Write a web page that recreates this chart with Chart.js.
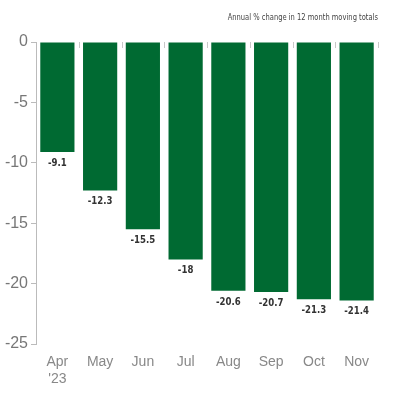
<!DOCTYPE html>
<html>
<head>
<meta charset="utf-8">
<script src="https://cdn.jsdelivr.net/npm/chart.js@4/dist/chart.umd.min.js"></script>
<style>
  html, body { margin: 0; padding: 0; background: #fff; }
  #wrap { width: 400px; height: 400px; }
</style>
</head>
<body>
<div id="wrap"><canvas id="chart" width="400" height="400"></canvas></div>
<script>
const months = [['Apr', "'23"], 'May', 'Jun', 'Jul', 'Aug', 'Sep', 'Oct', 'Nov'];
const changes = [-9.1, -12.3, -15.5, -18, -20.6, -20.7, -21.3, -21.4];
const yTicks = [0, -5, -10, -15, -20, -25];
const subtitle = 'Annual % change in 12 month moving totals';

const barGreen = '#006a32';

// narrow text: no condensed face installed, so squeeze horizontally
function narrowText(ctx, text, x, y, squeeze) {
    ctx.save();
    ctx.translate(x, y);
    ctx.scale(squeeze, 1);
    ctx.fillText(text, 0, 0);
    ctx.restore();
}

// value labels under each bar, small marks at the top and the subtitle
const extras = {
    id: 'extras',
    afterDatasetsDraw(chart) {
        const ctx = chart.ctx;
        const area = chart.chartArea;
        const meta = chart.getDatasetMeta(0);
        ctx.save();
        ctx.fillStyle = '#333';
        ctx.font = 'bold 11px "DejaVu Sans", sans-serif';
        ctx.textAlign = 'center';
        ctx.textBaseline = 'middle';
        meta.data.forEach((bar, i) => {
            narrowText(ctx, String(changes[i]), bar.x, bar.y + 11, 0.78);
        });

        const xs = chart.scales.x;
        ctx.strokeStyle = '#c8c8c8';
        ctx.lineWidth = 1;
        for (let i = 1; i <= changes.length; i++) {
            const x = i < changes.length
                ? (xs.getPixelForValue(i - 1) + xs.getPixelForValue(i)) / 2
                : area.right;
            ctx.beginPath();
            ctx.moveTo(Math.round(x) + 0.5, area.top);
            ctx.lineTo(Math.round(x) + 0.5, area.top + 6);
            ctx.stroke();
        }

        ctx.fillStyle = '#444';
        ctx.font = '9.5px "DejaVu Sans", sans-serif';
        ctx.textAlign = 'right';
        narrowText(ctx, subtitle, area.right, 18, 0.71);
        ctx.restore();
    }
};

new Chart(document.getElementById('chart').getContext('2d'), {
    type: 'bar',
    data: {
        labels: months,
        datasets: [{
            data: changes,
            backgroundColor: barGreen,
            barPercentage: 0.8,
            categoryPercentage: 1
        }]
    },
    options: {
        responsive: false,
        animation: false,
        layout: { padding: { top: 42, right: 22, left: 0, bottom: 0 } },
        plugins: { legend: { display: false }, tooltip: { enabled: false } },
        scales: {
            x: {
                grid: { display: false },
                border: { display: false },
                ticks: {
                    color: '#888',
                    font: { family: 'Liberation Sans, Arial, sans-serif', size: 14 },
                    padding: 2,
                    maxRotation: 0
                },
                afterFit(scale) { scale.height = 56; }
            },
            y: {
                min: -25,
                max: 0,
                afterBuildTicks(scale) { scale.ticks = yTicks.map(v => ({ value: v })); },
                grid: { drawOnChartArea: false, tickLength: 5, color: '#bbb' },
                border: { display: true, color: '#bbb' },
                ticks: {
                    color: '#777',
                    font: { family: 'Liberation Sans, Arial, sans-serif', size: 16 },
                    padding: 3
                },
                afterFit(scale) { scale.width = 36; }
            }
        }
    },
    plugins: [extras]
});
</script>
</body>
</html>
